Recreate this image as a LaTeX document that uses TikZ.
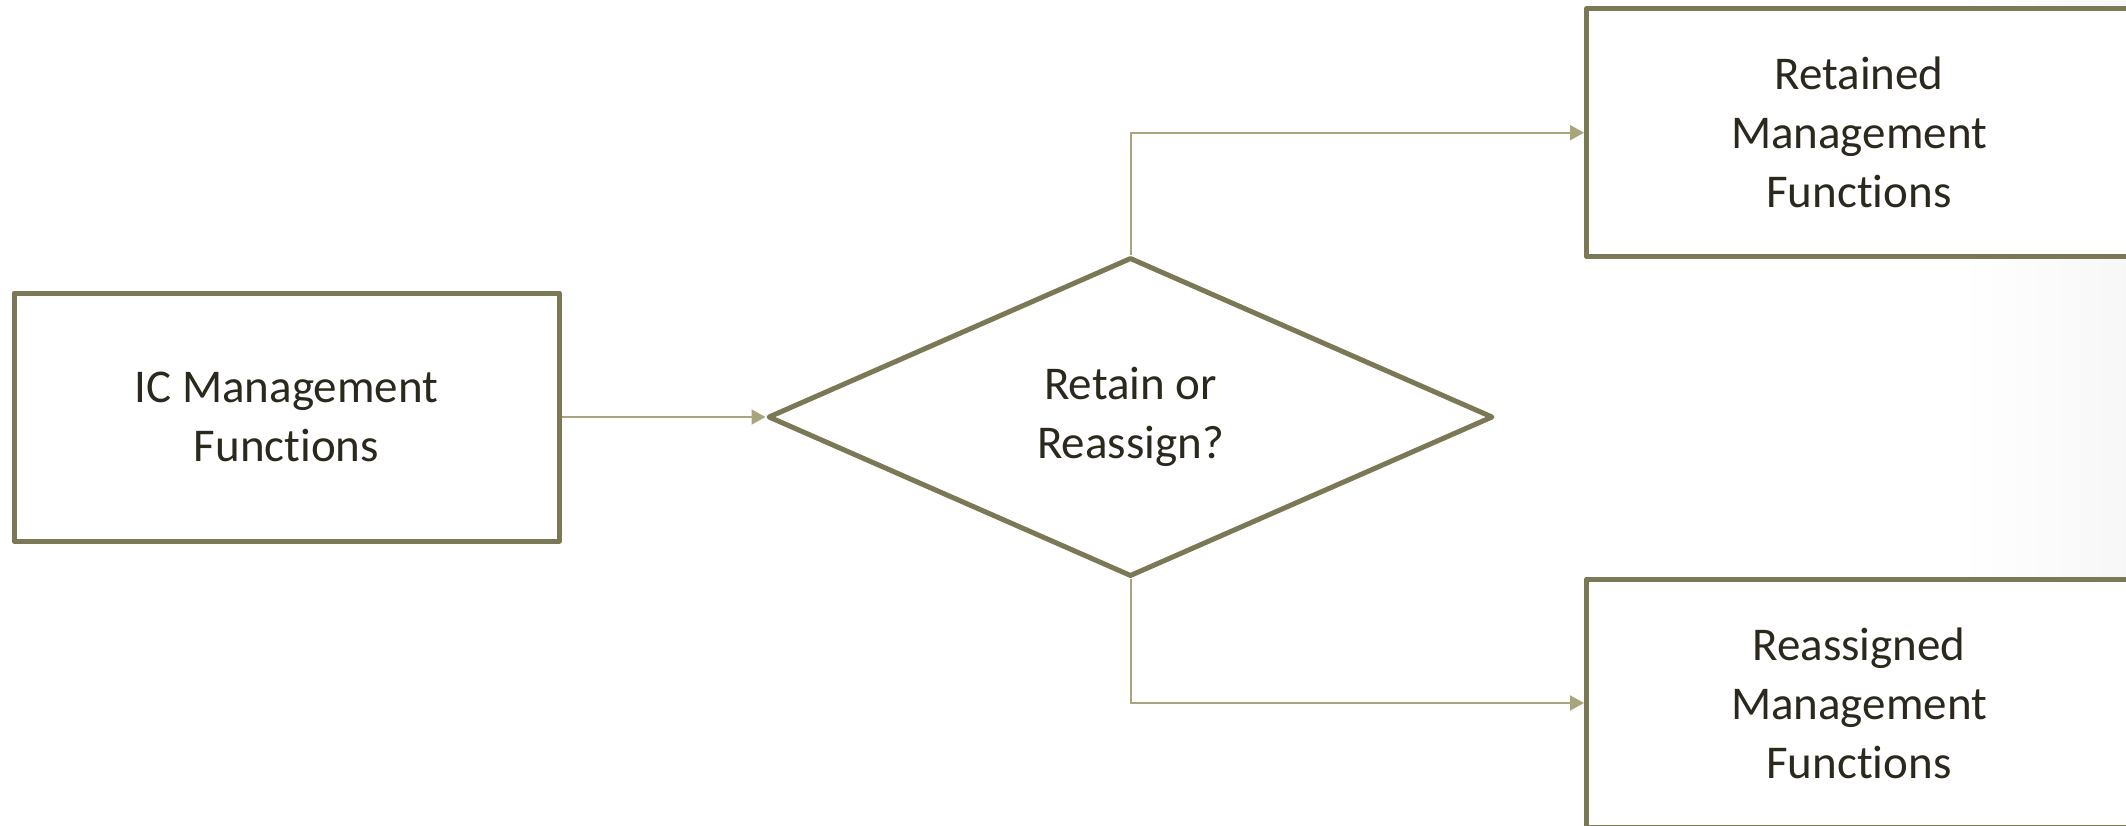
\documentclass[tikz,border=0pt]{standalone}
\usepackage{fontspec}
\setmainfont{Carlito}[Ligatures={NoCommon}]
\usetikzlibrary{shapes.geometric,arrows.meta}
\definecolor{boxline}{HTML}{7B7856}
\definecolor{connline}{HTML}{A8A47C}
\definecolor{txt}{HTML}{2B281E}
\tikzset{
  stepbox/.style={draw=boxline, line width=5pt, fill=white, line join=round,
    minimum width=545pt, minimum height=248pt, inner sep=0pt,
    align=center, text=txt, font=\fontsize{47}{59}\selectfont},
  decision/.style={diamond, draw=boxline, line width=5pt, fill=white, line join=round,
    minimum width=725pt, minimum height=319pt, inner sep=0pt,
    align=center, text=txt, font=\fontsize{47}{59}\selectfont},
  conn/.style={draw=connline, line width=2pt, -{Triangle[length=14pt,width=15pt]}}
}
\begin{document}
\begin{tikzpicture}[x=1pt,y=-1pt]
\useasboundingbox (0,0) rectangle (2126,825);
\clip (0,0) rectangle (2126,825);
\shade[left color=white, right color=black!3] (1960,0) rectangle (2126,825);
\node[stepbox] (ic) at (286.5,417) {IC Management\\Functions};
\node[decision] (dec) at (1130.5,417) {Retain or\\Reassign?};
\node[stepbox] (ret) at (1859,132.7) {Retained\\Management\\Functions};
\node[stepbox] (rea) at (1859,703) {Reassigned\\Management\\Functions};
\draw[conn] (ic.east) -- (dec.west);
\draw[conn] (dec.north) |- (ret.west);
\draw[conn] (dec.south) |- (rea.west);
\end{tikzpicture}
\end{document}
